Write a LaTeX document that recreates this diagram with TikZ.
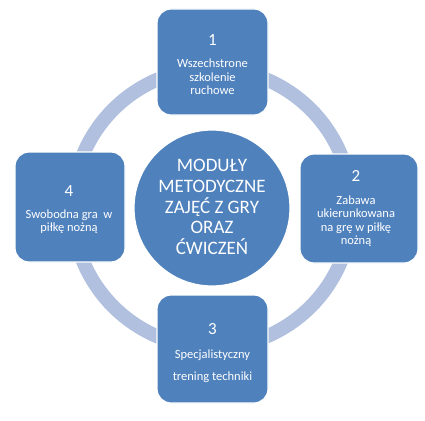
\documentclass[tikz,border=0pt]{standalone}
\usepackage{fontspec}
\setmainfont{Carlito}
\definecolor{boxblue}{HTML}{4F81BD}
\definecolor{ringblue}{HTML}{B0C0DE}
\begin{document}
\begin{tikzpicture}[x=1pt,y=-1pt,
  modbox/.style={draw=white,line width=1.2pt,fill=boxblue,rounded corners=14pt,minimum width=#1,inner sep=0pt},
  numtxt/.style={text=white,font=\fontsize{17}{19}\selectfont,inner sep=0pt},
  bodytxt/.style={text=white,font=\fontsize{12.5}{13.5}\selectfont,inner sep=0pt,align=center},
  centertxt/.style={text=white,font=\fontsize{19}{20.7}\selectfont,inner sep=0pt,align=center}]
\useasboundingbox (0,0) rectangle (425,420);
\fill[white] (0,0) rectangle (425,420);
% ring
\coordinate (c) at (212,208);
\draw[ringblue,line width=14pt] (c) circle[radius=139.5];
% boxes
\node[modbox=111pt,minimum height=106pt] (b1) at (212.5,62) {};
\node[modbox=118pt,minimum height=109pt] (b2) at (359,208.5) {};
\node[modbox=111pt,minimum height=108pt] (b3) at (212.5,349) {};
\node[modbox=110pt,minimum height=110pt] (b4) at (70,207) {};
% center circle
\node[circle,draw=white,line width=1.2pt,fill=boxblue,minimum size=156pt,inner sep=0pt] (m) at (c) {};
\node[centertxt] (mt) at (212,207) {MODUŁY\\METODYCZNE\\ZAJĘĆ Z GRY\\ORAZ\\ĆWICZEŃ};
% box 1
\node[numtxt] (n1) at (212.5,40) {1};
\node[bodytxt] (t1) at (212.5,77) {Wszechstrone\\szkolenie\\ruchowe};
% box 2
\node[numtxt] (n2) at (356,176) {2};
\node[bodytxt] (t2) at (356,221) {Zabawa\\ukierunkowana\\na grę w piłkę\\nożną};
% box 3
\node[numtxt] (n3) at (212.5,329) {3};
\node[bodytxt] (t3a) at (212.5,355) {Specjalistyczny};
\node[bodytxt] (t3b) at (212.5,377) {trening techniki};
% box 4
\node[numtxt] (n4) at (69,191) {4};
\node[bodytxt] (t4) at (69,221.5) {Swobodna gra\ \ w\\piłkę nożną};
\end{tikzpicture}
\end{document}
